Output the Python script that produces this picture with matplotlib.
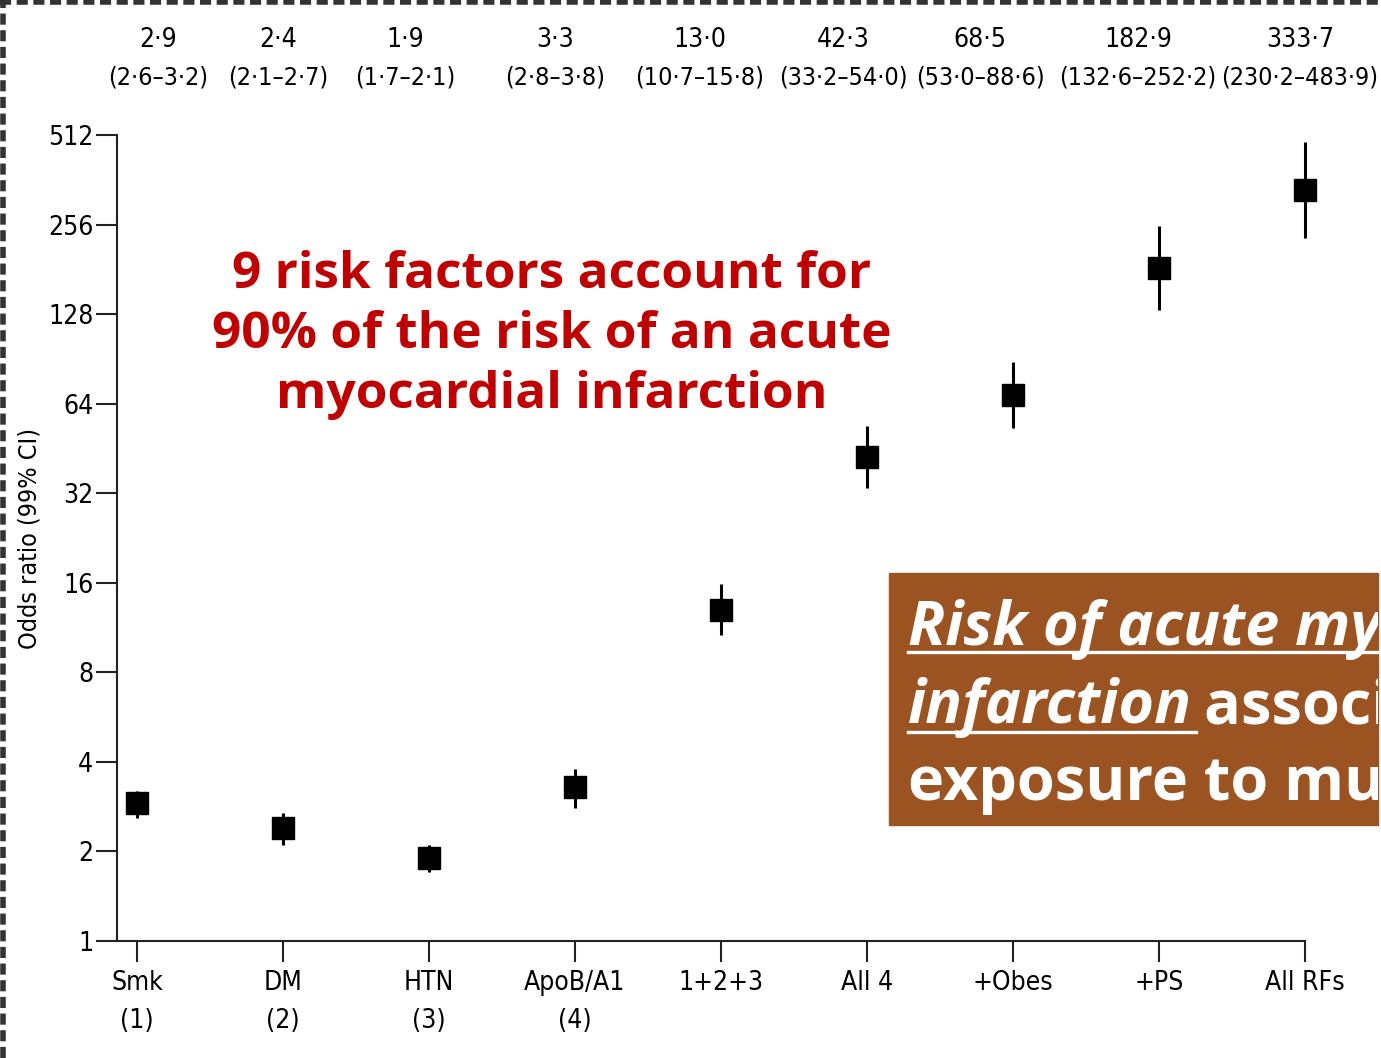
import numpy as np
import matplotlib.pyplot as plt
from matplotlib.patches import Rectangle

# czynniki ryzyka i ilorazy szans (99% CI)
kategorie = ['Smk\n(1)', 'DM\n(2)', 'HTN\n(3)', 'ApoB/A1\n(4)', '1+2+3',
             'All 4', '+Obes', '+PS', 'All RFs']
iloraz = [2.9, 2.4, 1.9, 3.3, 13.0, 42.3, 68.5, 182.9, 333.7]
ci_dol = [2.6, 2.1, 1.7, 2.8, 10.7, 33.2, 53.0, 132.6, 230.2]
ci_gora = [3.2, 2.7, 2.1, 3.8, 15.8, 54.0, 88.6, 252.2, 483.9]
y_ticki = [1, 2, 4, 8, 16, 32, 64, 128, 256, 512]

# środki podpisów nad wykresem (piksele), lekko przesunięte żeby się nie nachodziły
srodki_px = [158, 278, 405, 555, 700, 843, 980, 1138, 1300]

waska = dict(family='DejaVu Sans', stretch='condensed')
duza = ['Open Sans', 'DejaVu Sans']
W, H = 1381, 1058

fig = plt.figure(figsize=(W/100, H/100), dpi=100)
ax = fig.add_axes([117/W, 1 - 941/H, (1305 - 117)/W, (941 - 135)/H])

x = np.arange(len(kategorie))
iloraz = np.array(iloraz)
blad = [iloraz - np.array(ci_dol), np.array(ci_gora) - iloraz]
ax.errorbar(x, iloraz, yerr=blad, fmt='s', color='black', ms=16,
            elinewidth=2.2, capsize=0, zorder=3, clip_on=False)

ax.set_yscale('log', base=2)
ax.set_ylim(1, 512)
ax.set_xlim(-20/146, 8)
ax.set_yticks(y_ticki)
ax.set_yticklabels([str(v) for v in y_ticki], fontsize=19, **waska)
ax.minorticks_off()
ax.set_xticks(x)
ax.set_xticklabels(kategorie, fontsize=19, linespacing=1.6, **waska)
ax.tick_params(axis='both', length=15, width=1.5, color='#222222')
ax.tick_params(axis='y', pad=2)
ax.tick_params(axis='x', pad=6)
for s in ['top', 'right']:
    ax.spines[s].set_visible(False)
for s in ['left', 'bottom']:
    ax.spines[s].set_linewidth(1.5)
    ax.spines[s].set_color('#222222')
ax.set_ylabel('Odds ratio (99% CI)', fontsize=18, **waska)
ax.yaxis.set_label_coords((42 - 117)/1188, 0.5)

# wartości nad wykresem
for i in range(len(kategorie)):
    fig.text(srodki_px[i]/W, 1 - 40/H, f'{iloraz[i]:.1f}'.replace('.', '·'),
             ha='center', va='center', fontsize=19, **waska)
    fig.text(srodki_px[i]/W, 1 - 78/H,
             f'({ci_dol[i]:.1f}–{ci_gora[i]:.1f})'.replace('.', '·'),
             ha='center', va='center', fontsize=18, **waska)

# czerwony napis
fig.text(552/W, 1 - 335/H,
         '9 risk factors account for\n90% of the risk of an acute\nmyocardial infarction',
         ha='center', va='center', color='#C00000', fontsize=37,
         fontweight='bold', family=duza, linespacing=1.27)

# brązowa ramka z tekstem
ramka = Rectangle((889/W, 1 - 825/H), (1378 - 889)/W, (825 - 573)/H,
                  transform=fig.transFigure, color='#9C5322', zorder=1)
fig.patches.append(ramka)
styl = dict(color='white', fontsize=44, fontweight='bold', family=duza)
t1 = fig.text(908/W, 1 - 645/H, 'Risk of acute myocardial',
              style='italic', **styl)
t2 = fig.text(908/W, 1 - 723/H, 'infarction', style='italic', **styl)
t3 = fig.text(908/W, 1 - 800/H, 'exposure to multiple risk factors', **styl)
fig.canvas.draw()
r = fig.canvas.get_renderer()
b2 = t2.get_window_extent(r).transformed(fig.transFigure.inverted())
t4 = fig.text(b2.x1 + 12/W, 1 - 723/H, 'associated with', **styl)
for t in (t1, t2, t3, t4):
    t.set_clip_path(ramka)
# podkreślenia
fig.add_artist(plt.Line2D([908/W, 1378/W], [1 - 652/H] * 2,
                          transform=fig.transFigure, color='white', lw=2.4))
fig.add_artist(plt.Line2D([908/W, b2.x1 + 4/W], [1 - 732/H] * 2,
                          transform=fig.transFigure, color='white', lw=2.4))

# przerywana ramka u góry i z lewej
fig.add_artist(plt.Line2D([0, 1], [0.998, 0.998], transform=fig.transFigure,
                          color='#333333', lw=4, ls=(0, (2, 1))))
fig.add_artist(plt.Line2D([0.002, 0.002], [0, 1], transform=fig.transFigure,
                          color='#333333', lw=4, ls=(0, (2, 1))))

plt.savefig('out.png', dpi=100)
